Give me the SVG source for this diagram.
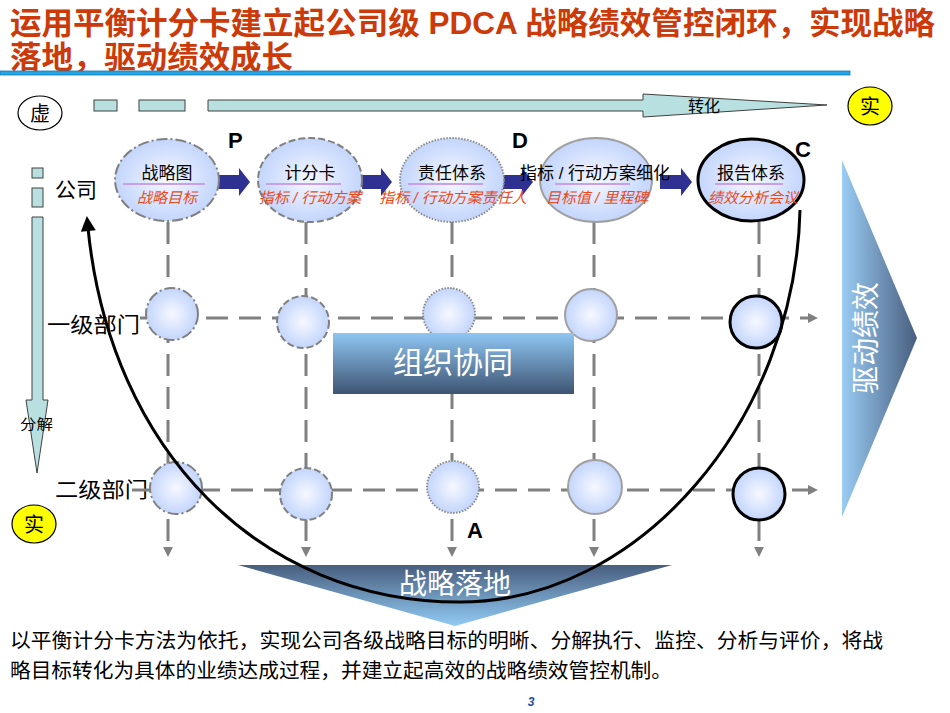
<svg xmlns="http://www.w3.org/2000/svg" width="950" height="713" viewBox="0 0 950 713">
<defs>
<style>
text{font-family:"Liberation Sans","Noto Sans CJK SC",sans-serif;}
.title{font-size:31px;font-weight:bold;fill:#CC3A0A;}
.lbl{font-size:17px;fill:#000;text-anchor:middle;}
.red{font-size:15px;fill:#E84A1A;font-style:italic;text-anchor:middle;}
.row{font-size:21px;fill:#000;}
.pdca{font-size:22px;font-weight:bold;fill:#000;}
.node{fill:url(#nodeG);}
.s1{stroke:#808080;stroke-width:2;stroke-dasharray:11 3 2 3;}
.s2{stroke:#808080;stroke-width:2;stroke-dasharray:7 3;}
.s3{stroke:#8A8A8A;stroke-width:2;stroke-dasharray:1.5 1.5;}
.s4{stroke:#A0A0A0;stroke-width:2;}
.s5{stroke:#000;stroke-width:3;}
.grid{stroke:#808080;stroke-width:3;stroke-dasharray:22 11;fill:none;}
.uline{stroke:#C8A0E8;stroke-width:2;}
.barrow{fill:#2E3192;}
.teal{fill:#B8E0E0;stroke:#404040;stroke-width:1;}
.white{fill:#fff;font-family:"Noto Sans CJK SC",sans-serif;}
</style>
<radialGradient id="nodeG" cx="50%" cy="50%" r="55%">
<stop offset="0" stop-color="#F6F8FF"/>
<stop offset="1" stop-color="#BED2FC"/>
</radialGradient>
<linearGradient id="boxG" x1="0" y1="0" x2="0" y2="1">
<stop offset="0" stop-color="#8EC6F2"/>
<stop offset="1" stop-color="#3E5472"/>
</linearGradient>
<linearGradient id="rightG" x1="0" y1="0" x2="1" y2="0">
<stop offset="0" stop-color="#9ACCF4"/>
<stop offset="1" stop-color="#485E7E"/>
</linearGradient>
<linearGradient id="bottomG" x1="0" y1="0" x2="0" y2="1">
<stop offset="0" stop-color="#485E7E"/>
<stop offset="1" stop-color="#92CAF4"/>
</linearGradient>
<marker id="ga" viewBox="0 0 10 10" refX="2" refY="5" markerWidth="3.3" markerHeight="3.3" orient="auto" markerUnits="strokeWidth">
<path d="M0,0 L10,5 L0,10 Z" fill="#808080"/>
</marker>
<marker id="ba" viewBox="0 0 10 10" refX="2" refY="5" markerWidth="5.5" markerHeight="5" orient="auto" markerUnits="strokeWidth">
<path d="M0,0 L10,5 L0,10 Z" fill="#000"/>
</marker>
</defs>
<rect width="950" height="713" fill="#fff"/>

<g id="title">
<text class="title" x="10" y="34" textLength="925" lengthAdjust="spacingAndGlyphs">运用平衡计分卡建立起公司级 PDCA 战略绩效管控闭环，实现战略</text>
<text class="title" x="10" y="68" textLength="283" lengthAdjust="spacingAndGlyphs">落地，驱动绩效成长</text>
<rect x="0" y="71" width="850" height="4" fill="#22A6E6" stroke="#1A78B0" stroke-width="0.8"/>
</g>

<g id="top-axis">
<ellipse cx="40" cy="113" rx="22" ry="17" fill="#fff" stroke="#000" stroke-width="1.2"/>
<text x="40" y="121" font-size="20" text-anchor="middle">虚</text>
<rect class="teal" x="94" y="100" width="23" height="11"/>
<rect class="teal" x="139" y="100" width="46" height="11"/>
<path class="teal" d="M208,100 H643 V94 L827,105 L643,117 V111 H208 Z"/>
<text x="688" y="112" font-size="16">转化</text>
<ellipse cx="870" cy="106" rx="22" ry="19" fill="#FFFF00" stroke="#000" stroke-width="1.2"/>
<text x="870" y="114" font-size="20" text-anchor="middle">实</text>
</g>

<g id="left-axis">
<rect class="teal" x="32" y="168" width="11" height="10"/>
<rect class="teal" x="32" y="188" width="11" height="19"/>
<path class="teal" d="M32,217 H43 V400 H48 L37,473 L26,400 H32 Z"/>
<text x="20" y="429" font-size="14" textLength="33" lengthAdjust="spacingAndGlyphs">分解</text>
<ellipse cx="34" cy="524" rx="22" ry="19" fill="#FFFF00" stroke="#000" stroke-width="1.2"/>
<text x="34" y="532" font-size="20" text-anchor="middle">实</text>
</g>

<g id="row-labels">
<text class="row" x="55" y="197">公司</text>
<text class="row" x="47" y="332" textLength="93" lengthAdjust="spacingAndGlyphs">一级部门</text>
<text class="row" x="55" y="497" textLength="93" lengthAdjust="spacingAndGlyphs">二级部门</text>
</g>

<g id="connectors">
<line class="grid" x1="168" y1="222" x2="168" y2="549" marker-end="url(#ga)"/>
<line class="grid" x1="306" y1="222" x2="306" y2="549" marker-end="url(#ga)"/>
<line class="grid" x1="452" y1="222" x2="452" y2="549" marker-end="url(#ga)"/>
<line class="grid" x1="594" y1="222" x2="594" y2="549" marker-end="url(#ga)"/>
<line class="grid" x1="759" y1="222" x2="759" y2="549" marker-end="url(#ga)"/>
<line class="grid" x1="140" y1="318" x2="810" y2="318" marker-end="url(#ga)"/>
<line class="grid" x1="132" y1="490" x2="810" y2="490" marker-end="url(#ga)"/>
<path class="barrow" d="M218,175 H239 V168 L250,182 L239,196 V189 H218 Z"/>
<path class="barrow" d="M362,175 H381 V168 L392,182 L381,196 V189 H362 Z"/>
<path class="barrow" d="M503,175 H522 V168 L533,182 L522,196 V189 H503 Z"/>
<path class="barrow" d="M660,175 H681 V168 L692,182 L681,196 V189 H660 Z"/>
</g>

<g id="pdca-letters">
<text class="pdca" x="228" y="148">P</text>
<text class="pdca" x="512" y="148">D</text>
<text class="pdca" x="795" y="157">C</text>
<text class="pdca" x="467" y="538">A</text>
</g>

<g id="node-zhanluetu">
<ellipse class="node s1" cx="167" cy="180" rx="52" ry="41"/>
<text class="lbl" x="167" y="179">战略图</text>
<line class="uline" x1="123" y1="184" x2="205" y2="184"/>
<text class="red" x="167" y="203">战略目标</text>
</g>
<g id="node-jifenka">
<ellipse class="node s2" cx="310" cy="180" rx="52" ry="42"/>
<text class="lbl" x="310" y="179">计分卡</text>
<line class="uline" x1="266" y1="184" x2="341" y2="184"/>
<text class="red" x="310" y="203">指标 / 行动方案</text>
</g>
<g id="node-zerentixi">
<ellipse class="node s3" cx="452" cy="180" rx="52" ry="42"/>
<text class="lbl" x="452" y="179">责任体系</text>
<line class="uline" x1="408" y1="184" x2="483" y2="184"/>
<text class="red" x="453" y="203">指标 / 行动方案责任人</text>
</g>
<g id="node-xihua">
<ellipse class="node s4" cx="596" cy="180" rx="56" ry="42"/>
<text class="lbl" x="595" y="179">指标 / 行动方案细化</text>
<line class="uline" x1="555" y1="184" x2="630" y2="184"/>
<text class="red" x="597" y="203">目标值 / 里程碑</text>
</g>
<g id="node-baogao">
<ellipse class="node s5" cx="751" cy="180" rx="53" ry="41"/>
<text class="lbl" x="751" y="179">报告体系</text>
<line class="uline" x1="715" y1="184" x2="783" y2="184"/>
<text class="red" x="753" y="203">绩效分析会议</text>
</g>

<g id="level1-nodes">
<circle class="node s1" cx="172" cy="314" r="26"/>
<circle class="node s2" cx="303" cy="322" r="26"/>
<circle class="node s3" cx="449" cy="314" r="26"/>
<circle class="node s4" cx="591" cy="315" r="26"/>
<circle class="node s5" cx="756" cy="322" r="26"/>
</g>
<g id="level2-nodes">
<circle class="node s1" cx="176" cy="488" r="26"/>
<circle class="node s2" cx="306" cy="494" r="26"/>
<circle class="node s3" cx="453" cy="487" r="26"/>
<circle class="node s4" cx="595" cy="487" r="27"/>
<circle class="node s5" cx="759" cy="494" r="26"/>
</g>

<g id="zuzhixietong">
<rect x="333" y="333" width="241" height="61" fill="url(#boxG)"/>
<text class="white" x="453" y="373" font-size="30" text-anchor="middle">组织协同</text>
</g>

<g id="qudongjixiao">
<path d="M842,160 L917,338 L842,517 Z" fill="url(#rightG)"/>
<text class="white" font-size="28" text-anchor="middle" transform="translate(876,338) rotate(-90)">驱动绩效</text>
</g>

<g id="zhanlueluodi">
<path d="M238,565 L672,565 L455,626 Z" fill="url(#bottomG)"/>
<text class="white" x="455" y="594" font-size="28" text-anchor="middle">战略落地</text>
</g>

<g id="cycle">
<path d="M800,210 C795,420 640,602 460,602 C260,602 110,450 88,228" fill="none" stroke="#000" stroke-width="3" marker-end="url(#ba)"/>
</g>

<g id="footer">
<text x="10" y="648" font-size="20" textLength="873" lengthAdjust="spacingAndGlyphs">以平衡计分卡方法为依托，实现公司各级战略目标的明晰、分解执行、监控、分析与评价，将战</text>
<text x="10" y="678" font-size="20" textLength="662" lengthAdjust="spacingAndGlyphs">略目标转化为具体的业绩达成过程，并建立起高效的战略绩效管控机制。</text>
<text x="531" y="706" font-size="12" font-style="italic" font-weight="bold" fill="#2050A0" text-anchor="middle">3</text>
</g>
</svg>
